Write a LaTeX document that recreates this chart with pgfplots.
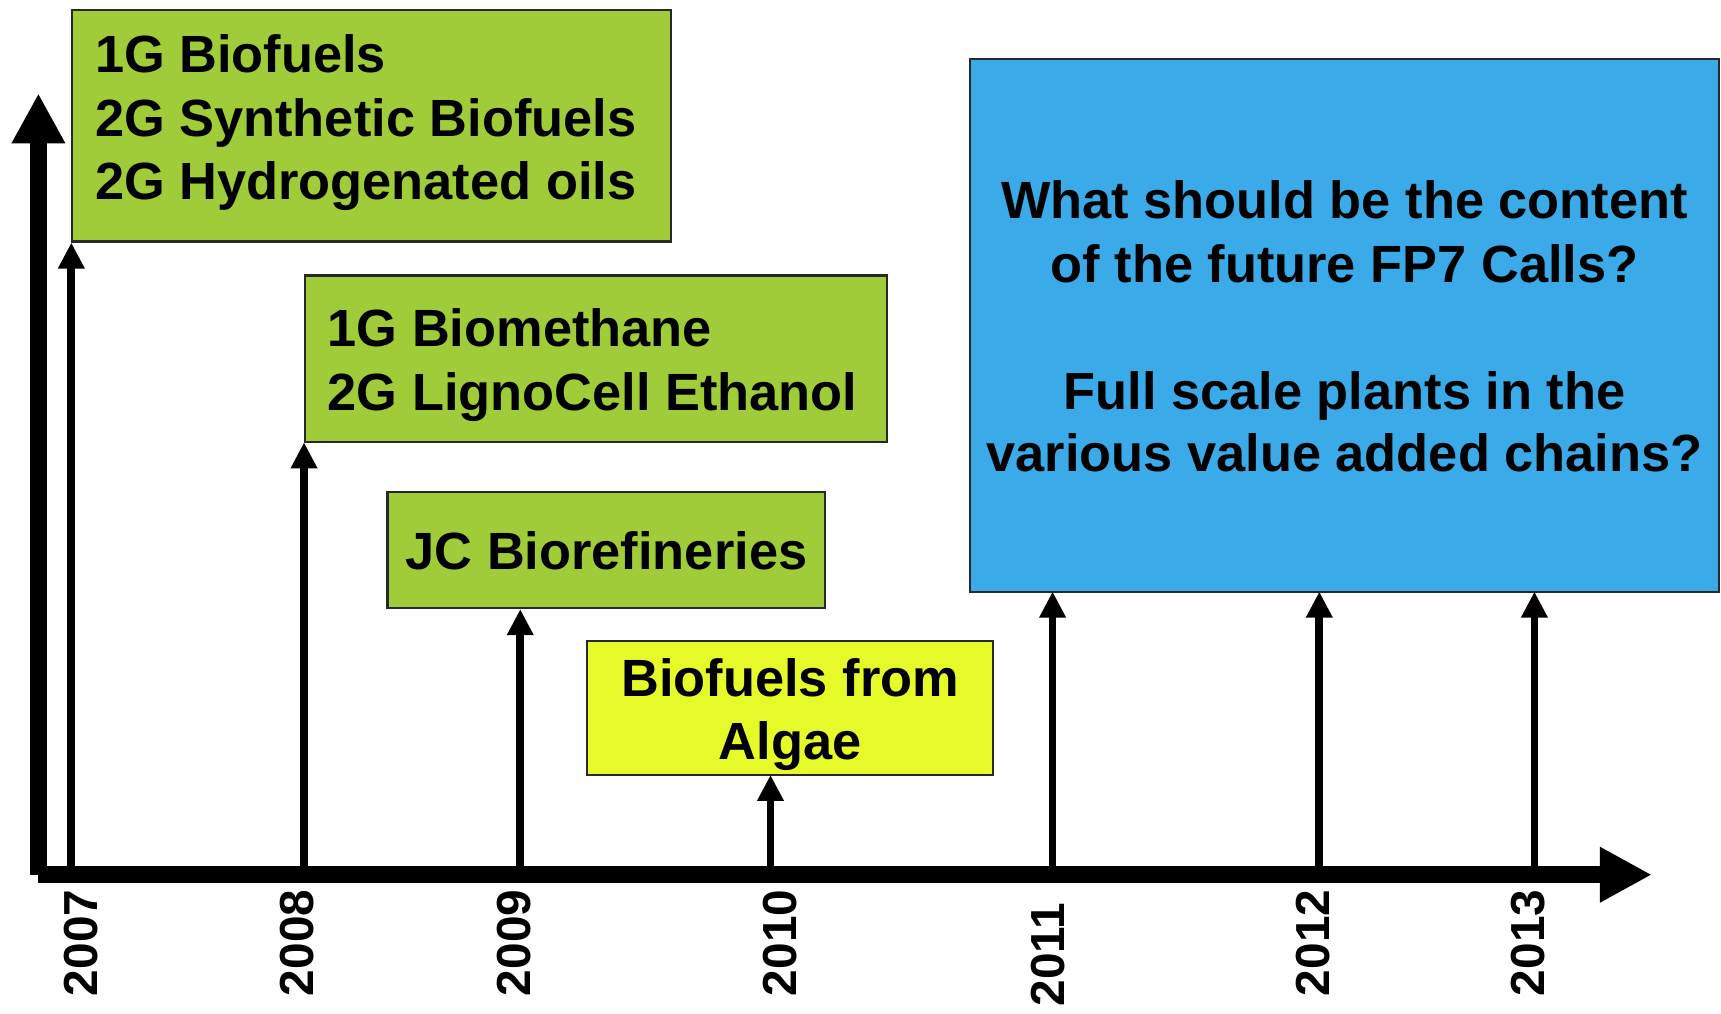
\documentclass[border=0pt]{standalone}
\usepackage{pgfplots}
\pgfplotsset{compat=1.18}
\usepackage{fontspec}
\setmainfont{Liberation Sans}
\usetikzlibrary{arrows.meta}
\definecolor{boxgreen}{RGB}{160,204,58}
\definecolor{boxyellow}{RGB}{230,250,42}
\definecolor{boxblue}{RGB}{58,170,232}
\definecolor{boxedge}{RGB}{40,40,40}
\newcommand{\bt}{\fontsize{14.9}{18}\selectfont\bfseries}
\newcommand{\yt}{\fontsize{13.6}{16}\selectfont\bfseries}
\begin{document}
\begin{tikzpicture}
\begin{axis}[width=17.21cm, height=10.13cm, scale only axis,
  xmin=0, xmax=1568, ymin=0, ymax=923, y dir=reverse,
  hide axis, clip=false]
% year arrows
\pgfplotsset{yeararrow/.style={black, line width=2.2pt, -{Triangle[width=0.25cm,length=0.26cm]}}}
\addplot[yeararrow] coordinates {(65,797) (65,221)};
\addplot[yeararrow] coordinates {(277,797) (277,403)};
\addplot[yeararrow] coordinates {(474,797) (474,555)};
\addplot[yeararrow] coordinates {(702,797) (702,706)};
\addplot[yeararrow] coordinates {(959,797) (959,539)};
\addplot[yeararrow] coordinates {(1202,797) (1202,539)};
\addplot[yeararrow] coordinates {(1398,797) (1398,539)};
% boxes
\addplot[draw=boxedge, line width=0.6pt, fill=boxgreen] coordinates {(66,9) (611,9) (611,220) (66,220)} -- cycle;
\addplot[draw=boxedge, line width=0.6pt, fill=boxgreen] coordinates {(278,251) (808,251) (808,403) (278,403)} -- cycle;
\addplot[draw=boxedge, line width=0.6pt, fill=boxgreen] coordinates {(353,448) (752,448) (752,554) (353,554)} -- cycle;
\addplot[draw=boxedge, line width=0.6pt, fill=boxyellow] coordinates {(535,584) (905,584) (905,706) (535,706)} -- cycle;
\addplot[draw=boxedge, line width=0.6pt, fill=boxblue] coordinates {(884,54) (1566,54) (1566,539) (884,539)} -- cycle;
% main axes
\addplot[black, line width=4.9pt, -{Triangle[width=0.5cm,length=0.5cm]}] coordinates {(35,797) (35,85)};
\addplot[black, line width=4.9pt, -{Triangle[width=0.52cm,length=0.52cm]}] coordinates {(35,797) (1505,797)};
% box texts
\node[anchor=base west, inner sep=0pt] at (axis cs:86,66) {\bt 1G Biofuels};
\node[anchor=base west, inner sep=0pt] at (axis cs:86,124) {\bt 2G Synthetic Biofuels};
\node[anchor=base west, inner sep=0pt] at (axis cs:86,182) {\bt 2G Hydrogenated oils};
\node[anchor=base west, inner sep=0pt] at (axis cs:298,316) {\bt 1G Biomethane};
\node[anchor=base west, inner sep=0pt] at (axis cs:298,374) {\bt 2G LignoCell Ethanol};
\node[anchor=base west, inner sep=0pt] at (axis cs:369,519) {\bt JC Biorefineries};
\node[anchor=base, inner sep=0pt] at (axis cs:720,635) {\bt Biofuels from};
\node[anchor=base, inner sep=0pt] at (axis cs:720,692) {\bt Algae};
\node[anchor=base, inner sep=0pt] at (axis cs:1225,199) {\bt What should be the content};
\node[anchor=base, inner sep=0pt] at (axis cs:1225,257) {\bt of the future FP7 Calls?};
\node[anchor=base, inner sep=0pt] at (axis cs:1225,373) {\bt Full scale plants in the};
\node[anchor=base, inner sep=0pt] at (axis cs:1225,430) {\bt various value added chains?};
% year labels
\node[rotate=90, anchor=east, inner sep=0pt] at (axis cs:74,810) {\yt 2007};
\node[rotate=90, anchor=east, inner sep=0pt] at (axis cs:271,810) {\yt 2008};
\node[rotate=90, anchor=east, inner sep=0pt] at (axis cs:468,810) {\yt 2009};
\node[rotate=90, anchor=east, inner sep=0pt] at (axis cs:711,810) {\yt 2010};
\node[rotate=90, anchor=east, inner sep=0pt] at (axis cs:955,822) {\yt 2011};
\node[rotate=90, anchor=east, inner sep=0pt] at (axis cs:1196,810) {\yt 2012};
\node[rotate=90, anchor=east, inner sep=0pt] at (axis cs:1392,810) {\yt 2013};
\end{axis}
\pgfresetboundingbox
\useasboundingbox (current axis.south west) rectangle (current axis.north east);
\end{tikzpicture}
\end{document}
